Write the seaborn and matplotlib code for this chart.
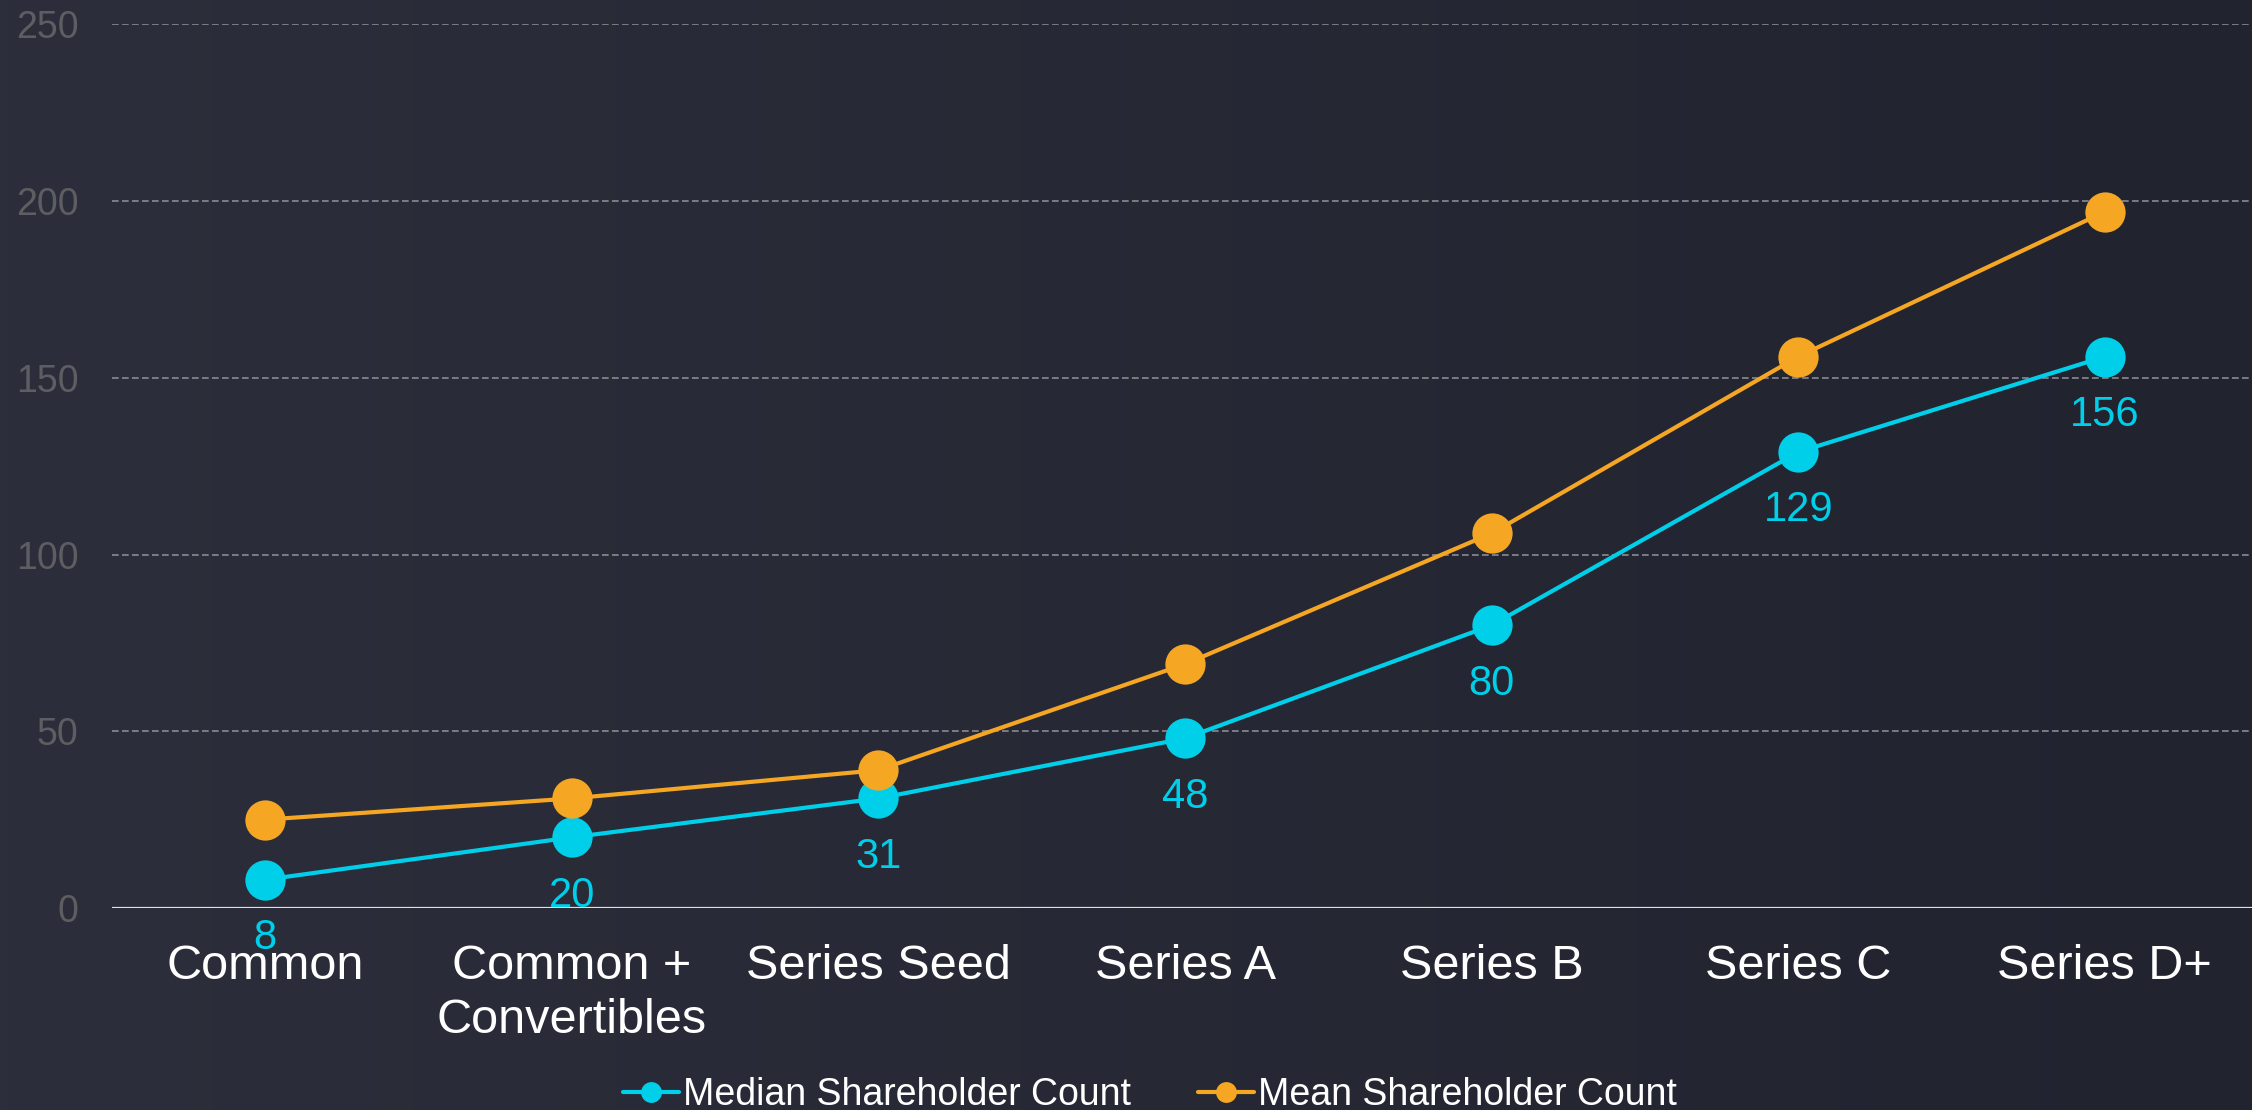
import numpy as np
import pandas as pd
import matplotlib
matplotlib.use("Agg")
import matplotlib.pyplot as plt
from matplotlib.lines import Line2D
import seaborn as sns

# Shareholder counts by financing stage
stages = ["Common", "Common +\nConvertibles", "Series Seed", "Series A",
          "Series B", "Series C", "Series D+"]
median_counts = [8, 20, 31, 48, 80, 129, 156]
mean_counts = [25, 31, 39, 69, 106, 156, 197]
series_names = ["Median Shareholder Count", "Mean Shareholder Count"]
y_ticks = [0, 50, 100, 150, 200, 250]

CYAN = "#00CFEA"
ORANGE = "#F5A623"

df = pd.DataFrame({
    "stage": stages * 2,
    "count": median_counts + mean_counts,
    "series": [series_names[0]] * len(stages) + [series_names[1]] * len(stages),
})

sns.set_theme(style="dark")
plt.rcParams["font.family"] = ["Liberation Sans", "DejaVu Sans"]

fig = plt.figure(figsize=(22.52, 11.10), dpi=100)

# dark background with a soft left-to-right gradient
bg = fig.add_axes([0, 0, 1, 1], zorder=-10)
left_c = np.array([44, 47, 59]) / 255
right_c = np.array([33, 35, 47]) / 255
t = np.linspace(0, 1, 256)[None, :, None]
grad = left_c * (1 - t) + right_c * t
bg.imshow(np.repeat(grad, 2, axis=0), aspect="auto", extent=[0, 1, 0, 1])
bg.set_axis_off()

ax = fig.add_axes([0.0497, 0.182, 0.9503, 0.796])
ax.set_facecolor("none")

sns.lineplot(data=df, x="stage", y="count", hue="series",
             palette=[CYAN, ORANGE], hue_order=series_names,
             marker="o", markersize=29, markeredgewidth=0,
             linewidth=3.0, sort=False, ax=ax, legend=False)

ax.set_xlim(-0.5, len(stages) - 0.52)
ax.set_ylim(0, 250)
ax.set_yticks(y_ticks)
ax.set_xlabel("")
ax.set_ylabel("")

ax.grid(False)
for v in y_ticks[1:]:
    ax.axhline(v, color="#8a8a92", lw=1.2, ls=(0, (4, 2)), zorder=0)
ax.axhline(0, color="#e0e0e0", lw=1.6, zorder=1)

for s in ax.spines.values():
    s.set_visible(False)

ax.tick_params(axis="y", length=0, pad=24, labelsize=27, labelcolor="#5e5e62")
ax.tick_params(axis="x", length=0, pad=26, labelsize=35, labelcolor="white")
for lab in ax.get_xticklabels():
    lab.set_linespacing(1.25)

# value labels under the median markers
for i, v in enumerate(median_counts):
    ax.annotate(str(v), (i, v), xytext=(0, -42), textcoords="offset points",
                ha="center", va="center", fontsize=30, color=CYAN)

handles = [
    Line2D([], [], color=CYAN, lw=3.0, marker="o", markersize=15, markeredgewidth=0),
    Line2D([], [], color=ORANGE, lw=3.0, marker="o", markersize=15, markeredgewidth=0),
]
fig.legend(handles, series_names, loc="lower left",
           bbox_to_anchor=(0.2698, -0.016), ncol=2, frameon=False,
           fontsize=27, labelcolor="white", handlelength=1.5,
           handletextpad=0.1, columnspacing=1.8, borderaxespad=0)

fig.savefig("out.png", dpi=100)
